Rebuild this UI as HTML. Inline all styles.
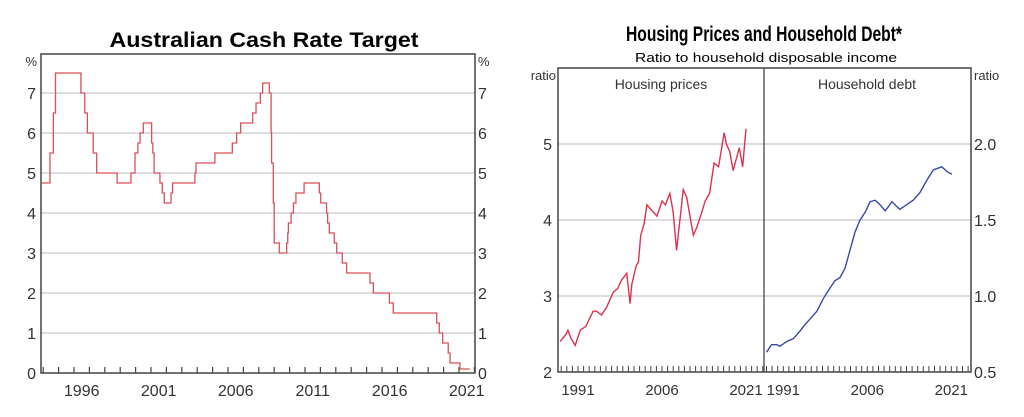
<!DOCTYPE html>
<html><head><meta charset="utf-8"><style>
html,body{margin:0;padding:0;background:#fff;}
svg{display:block;font-family:"Liberation Sans",Arial,sans-serif;}
</style></head><body>
<svg id="svg" width="1024" height="417" viewBox="0 0 1024 417">
<text x="264" y="47" text-anchor="middle" font-size="21" font-weight="bold" textLength="309" lengthAdjust="spacingAndGlyphs">Australian Cash Rate Target</text>
<text x="764" y="41" text-anchor="middle" font-size="21" font-weight="bold" textLength="276" lengthAdjust="spacingAndGlyphs">Housing Prices and Household Debt*</text>
<text x="766" y="62" text-anchor="middle" font-size="13" textLength="262" lengthAdjust="spacingAndGlyphs">Ratio to household disposable income</text>
<g id="g"></g>
</svg>
<script>
// Cash rate data (step series)
const cashYears = [1993.9,1994.44,1994.66,1994.8,1996.45,1996.7,1996.87,1997.25,1997.47,1998.8,1999.7,1999.96,2000.15,2000.29,2000.5,2001.04,2001.12,2001.2,2001.58,2001.73,2001.86,2002.3,2002.4,2003.85,2003.92,2005.15,2006.28,2006.56,2006.82,2007.6,2007.82,2008.1,2008.25,2008.68,2008.8,2008.83,2008.94,2009.0,2009.16,2009.33,2009.81,2009.88,2009.92,2010.1,2010.25,2010.41,2010.94,2011.93,2012.02,2012.4,2012.47,2012.58,2012.9,2013.06,2013.42,2013.7,2015.22,2015.44,2016.48,2016.73,2019.55,2019.72,2019.94,2020.3,2020.42,2021.06];
const cashRates = [4.75,5.5,6.5,7.5,7.0,6.5,6.0,5.5,5.0,4.75,5.0,5.5,5.75,6.0,6.25,5.75,5.5,5.0,4.75,4.5,4.25,4.5,4.75,5.0,5.25,5.5,5.75,6.0,6.25,6.5,6.75,7.0,7.25,7.0,6.0,5.25,4.25,3.25,3.25,3.0,3.25,3.5,3.75,4.0,4.25,4.5,4.75,4.5,4.25,4.0,3.75,3.5,3.25,3.0,2.75,2.5,2.25,2.0,1.75,1.5,1.25,1.0,0.75,0.5,0.25,0.1];
const cashEnd = 2021.7;
const cashTicks = [0,1,2,3,4,5,6,7];
const cashYearLabels = [1996,2001,2006,2011,2016,2021];
// Housing prices
const houseYears = [1987.8,1988.9,1989.2,1989.7,1990.5,1991.4,1992.4,1993.7,1994.3,1995.2,1996.1,1997.3,1998.1,1998.7,1999.7,2000.3,2000.6,2001.4,2001.8,2002.2,2002.8,2003.3,2003.9,2004.5,2005.1,2006.0,2006.6,2007.4,2008.0,2008.6,2009.2,2009.8,2010.4,2011.6,2012.2,2013.1,2013.7,2014.5,2015.3,2016.1,2017.1,2017.5,2018.1,2018.7,2019.8,2020.4,2021.0];
const houseVals = [2.4,2.5,2.55,2.45,2.35,2.55,2.6,2.8,2.8,2.75,2.85,3.05,3.1,3.2,3.3,2.9,3.15,3.4,3.45,3.8,3.95,4.2,4.15,4.1,4.05,4.25,4.2,4.35,4.1,3.6,4.0,4.4,4.3,3.8,3.9,4.1,4.25,4.35,4.75,4.7,5.15,5.0,4.9,4.65,4.95,4.7,5.2];
// Household debt
const debtYears = [1988.0,1988.9,1989.8,1990.4,1991.6,1992.8,1994.0,1994.6,1995.8,1997.0,1998.1,1999.3,2000.2,2001.1,2002.0,2002.9,2003.8,2004.7,2005.6,2006.5,2007.4,2008.3,2009.2,2010.4,2011.8,2013.0,2014.2,2015.4,2016.6,2017.8,2019.3,2020.2,2021.1];
const debtVals = [0.63,0.68,0.68,0.67,0.7,0.72,0.77,0.8,0.85,0.9,0.98,1.05,1.1,1.12,1.18,1.3,1.42,1.5,1.55,1.62,1.63,1.6,1.56,1.62,1.57,1.6,1.63,1.68,1.76,1.83,1.85,1.82,1.8];
const houseTicks = [2,3,4,5];
const debtTicks = ["0.5","1.0","1.5","2.0"];
const panelYearLabels = [1991,2006,2021];

const NS="http://www.w3.org/2000/svg";
const g=document.getElementById('g');
function mk(tag,attrs,text){const e=document.createElementNS(NS,tag);for(const k in attrs)e.setAttribute(k,attrs[k]);if(text!==undefined)e.textContent=text;g.appendChild(e);return e;}

// ---- Left chart ----
const L={x0:41,x1:475,y0:54,y1:373};
const cx=y=>74+(y-1996)*15.4;
const cy=v=>373-v*40;
cashTicks.forEach(t=>{
  if(t>0){const gl=mk('line',{x1:L.x0,x2:L.x1,y1:cy(t),y2:cy(t),stroke:'#bbb','stroke-width':1});
  
  }
  const a=mk('text',{x:L.x0-5,y:cy(t)+6,'text-anchor':'end','font-size':16,fill:'#333'},t);
  
  
  const b=mk('text',{x:L.x1+3,y:cy(t)+6,'font-size':16,fill:'#333'},t);
  
  
});
let e=mk('text',{x:L.x0-4,y:66,'text-anchor':'end','font-size':13,fill:'#333'},'%');


e=mk('text',{x:L.x1+3,y:66,'font-size':13,fill:'#333'},'%');


for(let yr=1994;yr<=2022;yr++){const x=cx(yr);if(x>L.x0&&x<L.x1){const t=mk('line',{x1:x,x2:x,y1:L.y1,y2:L.y1-6,stroke:'#444','stroke-width':1.2});

}}
cashYearLabels.forEach(yr=>{const t=mk('text',{x:cx(yr+0.5),y:396,'text-anchor':'middle','font-size':16,fill:'#333'},yr);

});
let d='';
cashYears.forEach((yr,i)=>{const x=cx(yr),y=cy(cashRates[i]);if(i===0)d+=`M${L.x0+1},${y}`;else d+=`H${x}V${y}`;});
d+=`H${cx(cashEnd)}`;
e=mk('path',{d:d,fill:'none',stroke:'#d9505a','stroke-width':1.3});


e=mk('rect',{x:L.x0,y:L.y0,width:L.x1-L.x0,height:L.y1-L.y0,fill:'none',stroke:'#444','stroke-width':1.5});



// ---- Right chart ----
const R={x0:558,xm:764,x1:971,y0:68,y1:372};
const hx=y=>578+(y-1991)*5.6;
const dx=y=>783.3+(y-1991)*5.6;
const hy=v=>372-(v-2)*76;
const dy=v=>372-(v-0.5)*152;
houseTicks.forEach((t,i)=>{
  if(i>0){const gl=mk('line',{x1:R.x0,x2:R.x1,y1:hy(t),y2:hy(t),stroke:'#bbb','stroke-width':1});
  
  }
  const a=mk('text',{x:R.x0-6,y:hy(t)+6,'text-anchor':'end','font-size':16,fill:'#333'},t);
  
  
});
debtTicks.forEach(t=>{
  const a=mk('text',{x:R.x1+3,y:dy(+t)+6,'font-size':16,fill:'#333'},t);
  
  
});
e=mk('text',{x:R.x0-2,y:80,'text-anchor':'end','font-size':13,fill:'#333'},'ratio');


e=mk('text',{x:R.x1+3,y:80,'font-size':13,fill:'#333'},'ratio');


e=mk('text',{x:661,y:89,'text-anchor':'middle','font-size':14,fill:'#333'},'Housing prices');


e=mk('text',{x:867,y:89,'text-anchor':'middle','font-size':14,fill:'#333'},'Household debt');


for(let yr=1988;yr<=2024;yr++){
  let x=hx(yr);if(x>R.x0+1&&x<R.xm-1){const t=mk('line',{x1:x,x2:x,y1:R.y1,y2:R.y1-6,stroke:'#444','stroke-width':1});
  
  }
  x=dx(yr);if(x>R.xm+1&&x<R.x1-1){const t=mk('line',{x1:x,x2:x,y1:R.y1,y2:R.y1-6,stroke:'#444','stroke-width':1});
  
  }
}
panelYearLabels.forEach(yr=>{
  let t=mk('text',{x:hx(yr),y:395,'text-anchor':'middle','font-size':15,fill:'#333'},yr);
  
  
  t=mk('text',{x:dx(yr),y:395,'text-anchor':'middle','font-size':15,fill:'#333'},yr);
  
  
});
e=mk('polyline',{points:houseYears.map((y,i)=>hx(y)+','+hy(houseVals[i])).join(' '),fill:'none',stroke:'#d9334f','stroke-width':1.4});


e=mk('polyline',{points:debtYears.map((y,i)=>dx(y)+','+dy(debtVals[i])).join(' '),fill:'none',stroke:'#3848a8','stroke-width':1.4});


e=mk('line',{x1:R.xm,x2:R.xm,y1:R.y0,y2:R.y1,stroke:'#444','stroke-width':1.3});


e=mk('rect',{x:R.x0,y:R.y0,width:R.x1-R.x0,height:R.y1-R.y0,fill:'none',stroke:'#444','stroke-width':1.5});


</script>
</body></html>
